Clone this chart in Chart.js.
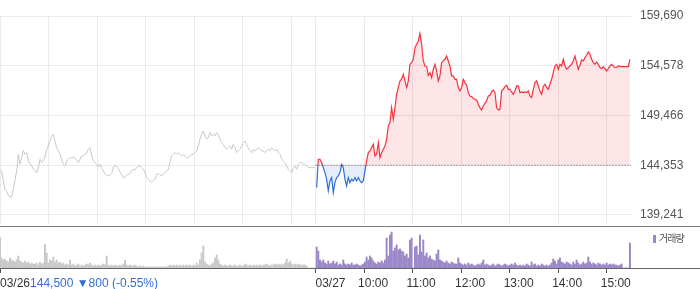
<!DOCTYPE html>
<html>
<head>
<meta charset="utf-8">
<script src="https://cdn.jsdelivr.net/npm/chart.js@4.4.1/dist/chart.umd.min.js"></script>
<style>
  html, body { margin: 0; padding: 0; background: #fff; }
  body { width: 700px; height: 289px; position: relative; overflow: hidden; font-family: "Liberation Sans", Arial, sans-serif; }
  #priceWrap { position: absolute; left: 0; top: 0; width: 700px; height: 226px; }
  #volWrap { position: absolute; left: 0; top: 226px; width: 700px; height: 63px; }
  .rule { position: absolute; left: 0; width: 700px; height: 1px; }
  #legend { position: absolute; left: 653px; top: 231px; font-size: 10px; line-height: 14px; color: #555; font-family: "Noto Sans CJK KR", sans-serif; letter-spacing: -1px; }
  #legend i { display: inline-block; width: 3px; height: 8px; background: #9a86c8; margin-right: 3px; vertical-align: -1px; }
</style>
</head>
<body>
<div id="priceWrap"><canvas id="priceChart" width="700" height="226"></canvas></div>
<div id="volWrap"><canvas id="volChart" width="700" height="63"></canvas></div>
<div class="rule" style="top:226px;background:#7a7a7a"></div>
<div class="rule" style="top:268px;background:#666"></div>
<div id="legend"><i></i>거래량</div>
<script>
// x axis = minutes from 03/26 09:00, 03/27 session follows right after 03/26 15:30 (390)
const SAMPLE_STEP = 2.06;
const TODAY_START = 391.4;
const PREV_CLOSE = 144353;

// 03/26 intraday (grey)
const prevPrice = [
  143939, 143768, 142809, 141884, 141644, 141302, 141096, 141096, 141884, 142809,
  143768, 145480, 144453, 145138, 145891, 145480, 145651, 144795, 144521, 144281,
  143939, 143768, 143596, 144110, 144966, 144624, 144795, 145206, 145994, 146336,
  146850, 147364, 147535, 146782, 146165, 145823, 145480, 144966, 144453, 144281,
  144795, 144966, 145138, 145069, 145206, 145069, 144864, 144624, 144966, 145309,
  145309, 145480, 145583, 145994, 146165, 145309, 144864, 144624, 144453, 144179,
  144453, 144042, 143768, 143494, 143357, 143254, 143322, 143494, 144179, 144281,
  144213, 144042, 143699, 143425, 143083, 143083, 143322, 143425, 143494, 143768,
  143939, 143870, 144110, 144247, 144281, 144110, 143939, 143596, 143083, 142911,
  142740, 142637, 142809, 142911, 143425, 143494, 143322,
  143254, 143425, 143596, 143768, 143939, 144624, 145309, 145480, 145651, 145480,
  145651, 145480, 145309, 145480, 145309, 145138, 145138, 145309, 145480, 145480,
  145651, 145823, 146336, 147021, 147535, 147878, 147364, 147021, 147193, 147706,
  147364, 147535, 147364, 147706, 147535, 147021, 146679, 146508, 146165, 145994,
  146165, 146336, 145994, 146508, 146165, 145651, 145823, 145994, 146336, 146679,
  146850, 146508, 146165, 145823, 145651, 145994, 145823, 145994, 146165, 145994,
  145823, 145823, 145651, 145823, 145994, 145823, 146165, 145994, 145823, 145994,
  145651, 145480, 144966, 144795, 144624, 144281, 143939, 143768, 143596, 144110,
  144281, 143939, 144453, 144624, 144624, 144453, 144453, 144281, 144110, 144110,
  144110, 144110, 144110
];

// 03/27 intraday (red above / blue below previous close)
const todayPrice = [
  142056, 144967, 144967, 144625, 144111, 143597, 142912, 141713, 142741, 143084,
  141542, 142570, 143084, 143255, 143597, 144453, 144111, 142912, 142227, 143084,
  142570, 142912, 142741, 143084, 142741, 143084, 142741, 142570, 142741, 143769,
  144796, 145652, 145824, 146166, 146509, 145310, 145481, 146680, 145138, 145652,
  145995, 146337, 147022, 148392, 148735, 150276, 149077, 150276, 151646, 152331,
  153016, 153187, 153701, 153016, 152331, 153016, 154729, 154900, 155242, 156441,
  156783, 157126, 157900,
  156783, 155071, 154557, 154489, 153598, 153872, 153358, 154215, 154729, 154043,
  153016, 153530, 154900, 155071, 155242, 155585, 155071, 154557, 153530, 153530,
  153187, 153187, 152331, 151988, 152331, 153187, 152845, 152571, 151817, 151475,
  151406, 151201, 151132, 151064, 150618, 150276, 150036, 150447, 150721, 150961,
  151475, 151543, 151886, 152091, 151817, 150276, 150036, 150105, 151988, 152160,
  152434, 152571, 152160, 152160, 151886, 151646, 151988, 152502, 152502, 151817,
  151886, 151817, 151886,
  151817, 151988, 151475, 151304, 152160, 152845, 153016, 152502, 151988, 151646,
  152434, 152673, 152331, 152160, 152673, 153187, 153872, 154557, 154729, 154215,
  154729, 154557, 155242, 154557, 154215, 154386, 154557, 154729, 155071, 155585,
  154900, 154215, 154626, 155174, 155071, 155414, 155653, 155996, 155756, 155242,
  154900, 154729, 154968, 154729, 154386, 154283, 154489, 154283, 154043, 154283,
  154557, 154729, 154557, 154386, 154420, 154557, 154489, 154489, 154489, 154489,
  154489, 154489, 155242
];

// volume (relative units)
const prevVolume = [
  31, 10, 8, 9, 7, 6, 10, 8, 7, 6,
  8, 12, 7, 6, 5, 7, 5, 6, 4, 5,
  4, 4, 5, 3, 6, 4, 5, 24, 15, 5,
  8, 7, 11, 6, 8, 5, 6, 4, 5, 3,
  4, 3, 8, 3, 4, 2, 3, 4, 2, 3,
  2, 3, 4, 3, 5, 3, 2, 3, 2, 3,
  2, 3, 4, 3, 12, 3, 2, 3, 2, 3,
  2, 2, 3, 2, 4, 8, 3, 2, 3, 2,
  2, 3, 2, 1, 2, 1, 2, 1, 1, 1,
  1, 1, 1, 1, 1, 1, 1, 1, 1, 1,
  1, 2, 3, 2, 3, 2, 3, 2, 3, 2,
  3, 2, 3, 2, 3, 2, 3, 2, 5, 3,
  8, 15, 22, 6, 4, 3, 2, 4, 5, 10,
  13, 8, 4, 3, 2, 3, 2, 2, 3, 2,
  2, 3, 2, 2, 3, 2, 2, 4, 3, 2,
  3, 2, 3, 2, 3, 2, 3, 2, 3, 3,
  4, 3, 2, 3, 3, 4, 3, 4, 3, 4,
  3, 5, 9, 5, 7, 4, 3, 4, 3, 4,
  3, 3, 3, 3, 2, 0, 0, 0, 0, 0
];
const todayVolume = [
  21, 17, 8, 6, 8, 5, 4, 7, 4, 5,
  7, 4, 6, 3, 4, 3, 8, 4, 3, 4,
  3, 5, 3, 3, 4, 3, 2, 3, 4, 6,
  11, 8, 12, 10, 7, 5, 4, 6, 5, 7,
  5, 8, 30, 12, 33, 36, 17, 20, 23, 18,
  19, 17, 16, 12, 14, 10, 28, 30, 0, 21,
  22, 13, 33, 16, 28, 12, 15, 10, 12, 9,
  8, 7, 14, 18, 8, 7, 6, 5, 7, 5,
  4, 6, 5, 4, 4, 10, 5, 4, 3, 4,
  3, 5, 3, 4, 3, 2, 3, 4, 3, 5,
  8, 3, 4, 3, 2, 3, 4, 2, 3, 4,
  3, 2, 3, 4, 3, 2, 3, 4, 3, 5,
  3, 2, 3, 2, 3, 2, 4, 3, 2, 6,
  3, 4, 2, 3, 2, 4, 3, 2, 3, 2,
  3, 5, 9, 7, 4, 8, 10, 6, 5, 4,
  6, 5, 4, 3, 6, 4, 8, 5, 3, 4,
  6, 4, 5, 11, 6, 4, 5, 4, 3, 5,
  4, 3, 4, 3, 5, 3, 4, 3, 4, 3,
  3, 2, 3, 4, 0, 0, 0, 0, 25
];

const priceTicks = [139241, 144353, 149466, 154578, 159690];
const gridMinutes = [0, 60, 120, 180, 240, 300, 360, 390, 450, 510, 570, 630, 690, 750];
const axisMarks = [0, 390, 450, 510, 570, 630, 690, 750];
const axisLabels = ["03/26", "03/27", "10:00", "11:00", "12:00", "13:00", "14:00", "15:00"];
const lastPrice = "144,500";
const lastChange = "▼800";
const lastRate = "(-0.55%)";

const RED = "#f5333f";
const BLUE = "#2f6fd6";
const FONT = "'Liberation Sans', Arial, sans-serif";

const toPoints = (vals, start) => vals.map((v, i) => ({ x: start + i * SAMPLE_STEP, y: v }));

// line turns blue under the previous close
function splitColor(ctx) {
  const chart = ctx.chart;
  const area = chart.chartArea;
  if (!area) return RED;
  const y0 = chart.scales.y.getPixelForValue(PREV_CLOSE);
  const stop = Math.min(1, Math.max(0, (y0 - area.top) / (area.bottom - area.top)));
  const g = chart.ctx.createLinearGradient(0, area.top, 0, area.bottom);
  g.addColorStop(0, RED);
  g.addColorStop(stop, RED);
  g.addColorStop(stop, BLUE);
  g.addColorStop(1, BLUE);
  return g;
}

new Chart(document.getElementById("priceChart"), {
  type: "line",
  data: {
    datasets: [
      {
        data: [{ x: 390, y: PREV_CLOSE }, { x: 780, y: PREV_CLOSE }],
        borderColor: "#555",
        borderWidth: 1,
        borderDash: [1, 2],
        pointRadius: 0,
        fill: false,
      },
      {
        data: toPoints(todayPrice, TODAY_START),
        borderColor: splitColor,
        borderWidth: 1.2,
        pointRadius: 0,
        tension: 0,
        fill: { target: { value: PREV_CLOSE }, above: "rgba(240,40,60,0.12)", below: "rgba(40,110,220,0.12)" },
      },
      {
        data: toPoints(prevPrice, 0),
        borderColor: "#c6c8cd",
        borderWidth: 1,
        pointRadius: 0,
        fill: false,
      },
    ],
  },
  options: {
    responsive: false,
    animation: false,
    events: [],
    layout: { padding: { top: 16, bottom: 1, left: 0, right: 0 } },
    plugins: { legend: { display: false }, tooltip: { enabled: false } },
    scales: {
      x: {
        type: "linear",
        min: 0,
        max: 780,
        afterBuildTicks: (s) => { s.ticks = gridMinutes.map((v) => ({ value: v })); },
        afterFit: (s) => { s.height = 0; s.paddingLeft = 0; s.paddingRight = 0; },
        ticks: { display: false },
        grid: { color: "#ebebeb", drawTicks: false },
        border: { display: false },
      },
      y: {
        position: "right",
        min: 138213,
        max: 159690,
        afterBuildTicks: (s) => { s.ticks = priceTicks.map((v) => ({ value: v })); },
        afterFit: (s) => { s.width = 69; s.paddingTop = 0; s.paddingBottom = 0; },
        ticks: {
          padding: 9,
          color: "#555",
          font: { size: 12, family: FONT },
          callback: (v) => Math.round(v).toLocaleString("en-US"),
        },
        grid: { color: "#ebebeb", drawTicks: false },
        border: { display: false },
      },
    },
  },
});

// time labels + last price under the volume panel
const axisLabelPlugin = {
  id: "axisLabels",
  afterDraw(chart) {
    const { ctx, scales: { x } } = chart;
    ctx.save();
    ctx.font = "12px " + FONT;
    ctx.textBaseline = "alphabetic";
    ctx.textAlign = "left";
    ctx.fillStyle = "#333";
    axisMarks.forEach((m, i) => {
      const shift = i < 2 ? 0 : -6; // dates start at the mark, times sit a bit left
      ctx.fillText(axisLabels[i], x.getPixelForValue(m) + shift, 60.5);
    });
    const w = ctx.measureText(axisLabels[0]).width;
    ctx.fillStyle = BLUE;
    ctx.fillText(lastPrice + " " + lastChange + " " + lastRate, w, 60.5);
    ctx.restore();
  },
};

new Chart(document.getElementById("volChart"), {
  type: "bar",
  data: {
    datasets: [
      { data: toPoints(prevVolume, 0), backgroundColor: "#c9c9c9", barThickness: 1.3, grouped: false },
      { data: toPoints(todayVolume, TODAY_START), backgroundColor: "#9a86c8", barThickness: 1.3, grouped: false },
    ],
  },
  options: {
    responsive: false,
    animation: false,
    events: [],
    layout: { padding: { top: 1, bottom: 16, left: 0, right: 69 } },
    plugins: { legend: { display: false }, tooltip: { enabled: false } },
    scales: {
      x: {
        type: "linear",
        min: 0,
        max: 780,
        offset: false,
        afterBuildTicks: (s) => { s.ticks = axisMarks.map((v) => ({ value: v })); },
        ticks: { display: false },
        grid: { offset: false, drawOnChartArea: false, drawTicks: true, tickLength: 5, color: "#555" },
        border: { display: false },
      },
      y: { display: false, min: 0, max: 41 },
    },
  },
  plugins: [axisLabelPlugin],
});
</script>
</body>
</html>
